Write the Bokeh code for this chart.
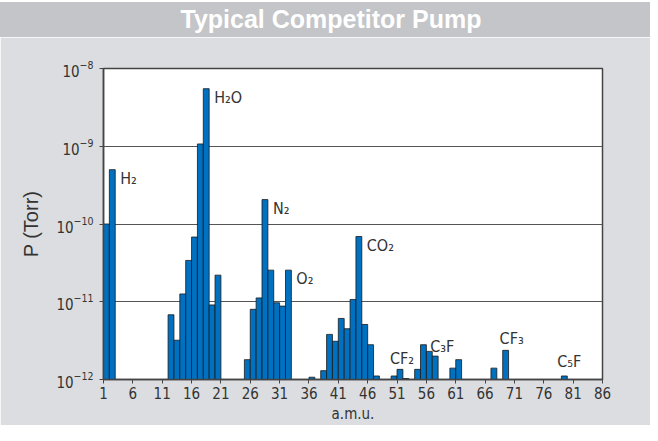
from bokeh.plotting import figure
from bokeh.layouts import column
from bokeh.models import Range1d, FixedTicker, Label, Div
from bokeh.embed import file_html
from bokeh.resources import INLINE

# ---- data ----
amu = [1, 2, 12, 13, 14, 15, 16, 17, 18, 19, 20, 25, 26, 27, 28, 29, 30, 31, 32,
       36, 38, 39, 40, 41, 42, 43, 44, 45, 46, 47, 50, 51, 52, 54, 55, 56, 57,
       60, 61, 67, 69, 79]
pressure = [1.0e-10, 5.0e-10, 6.8e-12, 3.2e-12, 1.26e-11, 3.4e-11, 6.8e-11, 1.07e-9,
            5.5e-9, 9.1e-12, 2.2e-11, 1.8e-12, 8.0e-12, 1.12e-11, 2.06e-10, 2.55e-11,
            9.7e-12, 8.8e-12, 2.55e-11, 1.07e-12, 1.3e-12, 3.8e-12, 3.1e-12, 6.1e-12,
            4.5e-12, 1.07e-11, 6.9e-11, 5.1e-12, 2.8e-12, 1.11e-12, 1.11e-12, 1.35e-12,
            1.03e-12, 1.35e-12, 2.8e-12, 2.3e-12, 2.0e-12, 1.4e-12, 1.8e-12, 1.4e-12,
            2.37e-12, 1.11e-12]
x_ticks = [1, 6, 11, 16, 21, 26, 31, 36, 41, 46, 51, 56, 61, 66, 71, 76, 81, 86]
y_ticks = [1e-12, 1e-11, 1e-10, 1e-9, 1e-8]
# species labels: text and the peak (amu) they annotate
side_label_text = ["H\u2082", "H\u2082O", "N\u2082", "O\u2082", "CO\u2082"]
side_label_amu = [2, 18, 28, 32, 44]
top_label_text = ["CF\u2082", "C\u2083F", "CF\u2083", "C\u2085F"]
top_label_amu = [51, 57, 69, 79]

title_text = "Typical Competitor Pump"
x_label = "a.m.u."
y_label = "P (Torr)"

# ---- styles ----
FONT = "'Liberation Sans Narrow', 'DejaVu Sans Condensed', 'Liberation Sans', sans-serif"
BG = "#dcdde0"
W = 650
top_label_dx = [2, 7, 6, 5]     # pixel nudges for the labels above bars
top_label_dy = [1, 0, 2, 5]

val = dict(zip(amu, pressure))

# ---- title band ----
title = Div(text=title_text, width=W, height=35, margin=(2, 0, 0, 0),
            styles={"background-color": "#c4c5c8", "color": "white",
                    "font-size": "25px", "font-weight": "bold",
                    "font-family": "'Liberation Sans', Arial, sans-serif",
                    "text-align": "center", "line-height": "35px",
                    "padding-left": "12px", "box-sizing": "border-box"})

# ---- main plot ----
p = figure(width=W, height=388, output_backend="svg", toolbar_location=None,
           y_axis_type="log", x_range=Range1d(1, 86), y_range=Range1d(1e-12, 1e-8),
           min_border_left=103, min_border_right=48, min_border_top=31, min_border_bottom=44)
p.background_fill_color = "white"
p.border_fill_color = BG
p.outline_line_color = "#444444"
p.outline_line_width = 1.5

p.vbar(x=[a + 0.5 for a in amu], width=1, top=pressure, bottom=y_ticks[0],
       fill_color="#0070c0", line_color="#1a1a1a", line_width=0.8)

p.xaxis.ticker = FixedTicker(ticks=x_ticks)
p.yaxis.ticker = FixedTicker(ticks=y_ticks)
p.xgrid.visible = False
p.ygrid.ticker = FixedTicker(ticks=y_ticks)
p.ygrid.grid_line_color = "#555555"
p.ygrid.grid_line_width = 1

for ax in (p.xaxis, p.yaxis):
    ax.axis_line_color = "#444444"
    ax.axis_line_width = 1.5
    ax.major_tick_line_color = "#444444"
    ax.major_tick_out = 4
    ax.major_tick_in = 0
    ax.minor_tick_line_color = None
    ax.major_label_text_color = "#333333"
    ax.major_label_text_font = FONT
    ax.major_label_text_font_size = "15px"
    ax.axis_label_text_color = "#333333"
    ax.axis_label_text_font_style = "normal"

p.xaxis.axis_label = x_label
p.xaxis.axis_label_text_font = FONT
p.xaxis.axis_label_text_font_size = "15px"
p.xaxis.axis_label_standoff = 3
p.xaxis.major_label_standoff = 3
p.yaxis.axis_label = y_label
p.yaxis.axis_label_text_font = "Liberation Sans"
p.yaxis.axis_label_text_font_size = "20px"
p.yaxis.axis_label_standoff = 11
p.yaxis.major_label_standoff = 6

for txt, a in zip(side_label_text, side_label_amu):
    p.add_layout(Label(x=a + 1, y=val[a], text=txt, text_align="left", text_baseline="top",
                       x_offset=5, y_offset=1, text_font=FONT, text_font_size="16px",
                       text_color="#333333"))
for txt, a, dx, dy in zip(top_label_text, top_label_amu, top_label_dx, top_label_dy):
    p.add_layout(Label(x=a + 0.5, y=val[a], text=txt, text_align="center", text_baseline="bottom",
                       x_offset=dx, y_offset=dy, text_font=FONT, text_font_size="16px",
                       text_color="#333333"))

layout = column(title, p, spacing=0)
open("out.html", "w").write(file_html(layout, INLINE))
